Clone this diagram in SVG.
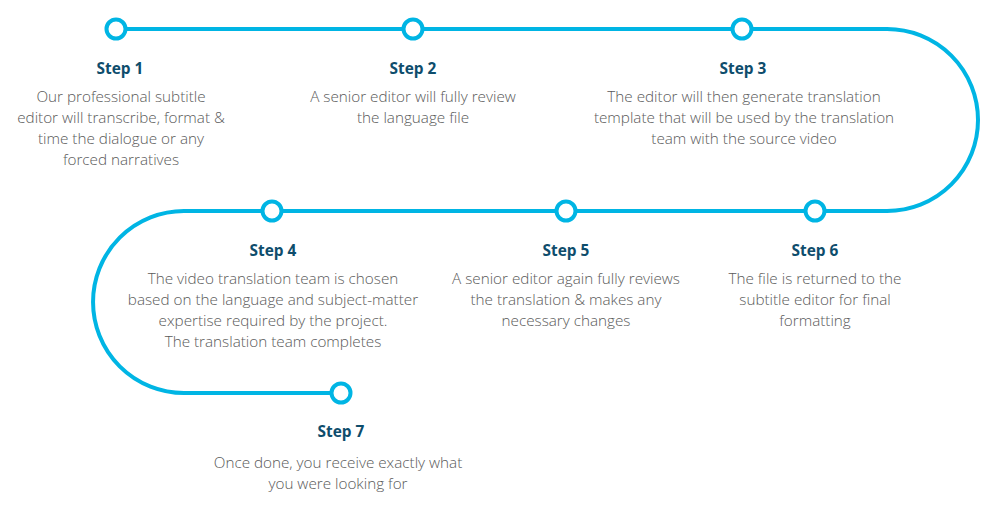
<svg xmlns="http://www.w3.org/2000/svg" width="983" height="506" viewBox="0 0 983 506">
<style>
.path{fill:none;stroke:#00b5e4;stroke-width:4}
.dot{fill:#fff;stroke:#00b5e4;stroke-width:4}
.t{font-family:"Open Sans","Liberation Sans",sans-serif;font-weight:700;font-size:15.4px;fill:#0e4d6c;text-anchor:middle}
.b{font-family:"Open Sans","Liberation Sans",sans-serif;font-weight:300;font-size:15.25px;fill:#5a5a5a;text-anchor:middle}
</style>
<rect width="983" height="506" fill="#fff"/>
<g id="connectors">
<path class="path" d="M116 29 H887 A91 91 0 0 1 887 211 H184 A91 91 0 0 0 184 393 H341"/>
</g>
<g id="step1"><circle class="dot" cx="116" cy="29" r="9.5"/>
<text class="t" x="120" y="74">Step 1</text>
<text class="b" x="121" y="102">Our professional subtitle</text>
<text class="b" x="121" y="123">editor will transcribe, format &amp;</text>
<text class="b" x="121" y="144">time the dialogue or any</text>
<text class="b" x="121" y="165">forced narratives</text></g>
<g id="step2"><circle class="dot" cx="413" cy="29" r="9.5"/>
<text class="t" x="413" y="74">Step 2</text>
<text class="b" x="413" y="102">A senior editor will fully review</text>
<text class="b" x="413" y="123">the language file</text></g>
<g id="step3"><circle class="dot" cx="742" cy="29" r="9.5"/>
<text class="t" x="743" y="74">Step 3</text>
<text class="b" x="744" y="102">The editor will then generate translation</text>
<text class="b" x="744" y="123">template that will be used by the translation</text>
<text class="b" x="744" y="144">team with the source video</text></g>
<g id="step4"><circle class="dot" cx="272" cy="211" r="9.5"/>
<text class="t" x="273" y="256">Step 4</text>
<text class="b" x="273" y="284">The video translation team is chosen</text>
<text class="b" x="273" y="305">based on the language and subject-matter</text>
<text class="b" x="273" y="326">expertise required by the project.</text>
<text class="b" x="273" y="347">The translation team completes</text></g>
<g id="step5"><circle class="dot" cx="566" cy="211" r="9.5"/>
<text class="t" x="566" y="256">Step 5</text>
<text class="b" x="566" y="284">A senior editor again fully reviews</text>
<text class="b" x="566" y="305">the translation &amp; makes any</text>
<text class="b" x="566" y="326">necessary changes</text></g>
<g id="step6"><circle class="dot" cx="815" cy="211" r="9.5"/>
<text class="t" x="815" y="256">Step 6</text>
<text class="b" x="815" y="284">The file is returned to the</text>
<text class="b" x="815" y="305">subtitle editor for final</text>
<text class="b" x="815" y="326">formatting</text></g>
<g id="step7"><circle class="dot" cx="341" cy="393" r="9.5"/>
<text class="t" x="341" y="437">Step 7</text>
<text class="b" x="338" y="468">Once done, you receive exactly what</text>
<text class="b" x="338" y="489">you were looking for</text></g>
</svg>
